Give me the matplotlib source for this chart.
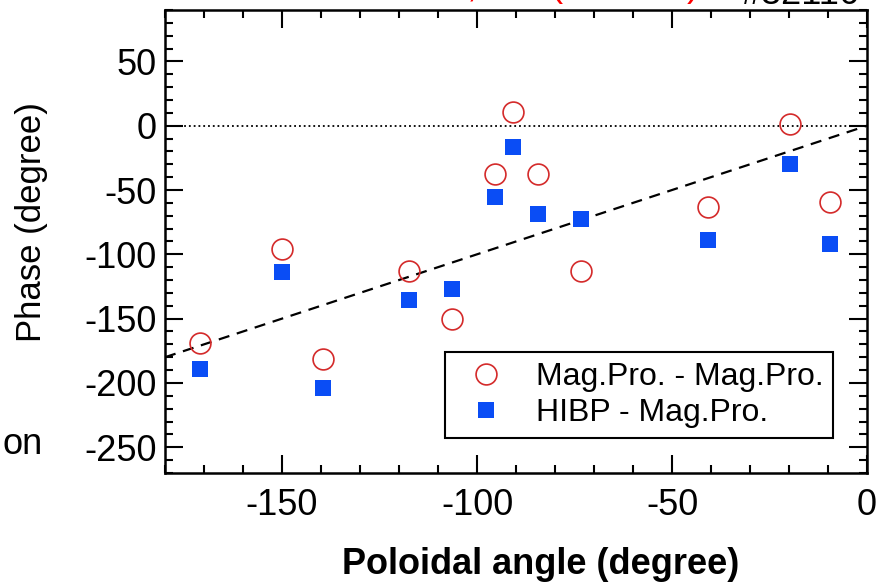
import matplotlib
matplotlib.use("Agg")
import matplotlib.pyplot as plt
from matplotlib.ticker import MultipleLocator

plt.rcParams["font.family"] = ["Liberation Sans", "DejaVu Sans"]
plt.rcParams["axes.unicode_minus"] = False

# poloidal angle (degree) of each probe
angle = [-171.1, -150.0, -139.4, -117.5, -106.5, -95.3, -90.7, -84.4, -73.4, -40.9, -19.8, -9.5]
# phase (degree)
phase_mag = [-169.0, -95.6, -181.5, -113.0, -150.5, -37.5, 10.4, -37.5, -113.3, -63.0, 1.6, -59.6]
phase_hibp = [-189.3, -113.8, -204.2, -135.2, -127.3, -55.7, -16.7, -68.8, -72.7, -89.1, -29.7, -91.7]
# dashed guide line (phase = angle)
fit_x = [-180, 0]
fit_y = [-180, 0]

RED = "#d42a2a"
BLUE = "#0a4df5"

fig = plt.figure(figsize=(8.87, 5.85), dpi=100)
ax = fig.add_axes([0.186, 0.1915, 0.7915, 0.7915])

ax.axhline(0, color="black", linestyle=":", linewidth=1.3, zorder=1)
ax.plot(fit_x, fit_y, color="black", linestyle="--", linewidth=1.6, dashes=(5, 3.5), zorder=2)
ax.plot(angle, phase_mag, linestyle="none", marker="o", markersize=15,
        markerfacecolor="none", markeredgecolor=RED, markeredgewidth=1.2,
        label="Mag.Pro. - Mag.Pro.", zorder=3)
ax.plot(angle, phase_hibp, linestyle="none", marker="s", markersize=11.5,
        color=BLUE, markeredgewidth=0, label="HIBP - Mag.Pro.", zorder=3)

ax.set_xlim(-180, 0)
ax.set_ylim(-270, 90)
ax.xaxis.set_major_locator(MultipleLocator(50))
ax.xaxis.set_minor_locator(MultipleLocator(10))
ax.yaxis.set_major_locator(MultipleLocator(50))
ax.yaxis.set_minor_locator(MultipleLocator(10))
ax.tick_params(which="both", direction="in", top=True, right=True, width=1.5,
               labelsize=26)
ax.tick_params(which="major", length=13)
ax.tick_params(which="minor", length=6)
ax.tick_params(axis="x", which="major", pad=11)
ax.tick_params(axis="y", which="major", pad=6)
for spine in ax.spines.values():
    spine.set_linewidth(1.8)

leg = ax.legend(loc="lower right", bbox_to_anchor=(0.9516, 0.0756), borderaxespad=0,
                fontsize=23, frameon=True, fancybox=False, framealpha=1,
                edgecolor="black", handletextpad=0.55, handlelength=2.0,
                borderpad=0.3, labelspacing=0.2)
leg.get_frame().set_linewidth(1.5)

fig.text(541 / 887, 1 - 565 / 585, "Poloidal angle (degree)", fontsize=26,
         fontweight="bold", ha="center", va="center")
fig.text(32 / 887, 1 - 222 / 585, "Phase (degree)", fontsize=25,
         rotation=90, ha="center", va="center")

# fragments of the surrounding slide
fig.text(43 / 887, 1 - 445 / 585, "on", fontsize=26, ha="right", va="center")
fig.text(860 / 887, 1 - 4 / 585, "#32116", fontsize=26, ha="right", va="baseline")
fig.text(472 / 887, 1 + 3.5 / 585, ",", fontsize=26, color="red", ha="center", va="baseline")
fig.text(557 / 887, 1 + 3.5 / 585, "(", fontsize=26, color="red", ha="center", va="baseline")
fig.text(693 / 887, 1 + 3.5 / 585, ")", fontsize=26, color="red", ha="center", va="baseline")

fig.savefig("out.png", dpi=100)
